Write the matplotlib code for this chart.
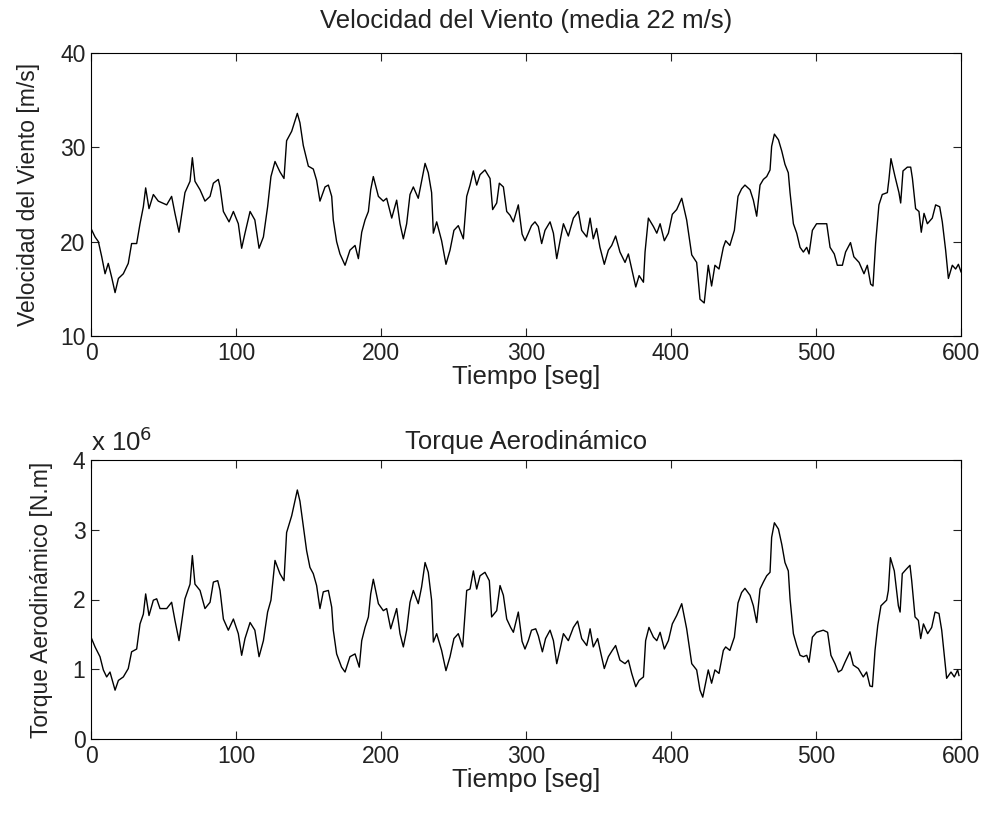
import matplotlib
matplotlib.use("Agg")
import matplotlib.pyplot as plt
from matplotlib.ticker import FuncFormatter

# velocidad del viento [m/s]
t_viento = [0, 2.8, 5.1, 7.4, 9.7, 11.9, 14.3, 16.6, 18.9, 22.3,
            25.7, 28.0, 31.5, 33.8, 36.1, 37.7, 40.0, 43.0, 46.4, 52.2,
            55.6, 57.9, 60.7, 64.8, 68.3, 69.9, 71.7, 75.2, 78.6, 82.1,
            84.4, 87.8, 89.0, 91.3, 95.2, 98.2, 101.6, 103.9, 106.2, 109.7,
            113.0, 115.9, 118.9, 121.8, 124.1, 126.9, 130.3, 133.1, 134.9, 138.4,
            142.3, 144.1, 146.4, 149.9, 153.3, 155.6, 157.9, 161.4, 163.7, 166.0,
            167.1, 169.4, 171.7, 175.2, 178.6, 182.1, 184.4, 186.7, 189.0, 191.3,
            192.9, 194.7, 198.2, 201.6, 203.9, 207.4, 210.8, 213.1, 215.4, 217.7,
            220.0, 222.3, 225.7, 228.0, 230.4, 232.6, 234.9, 236.1, 238.4, 241.8,
            244.8, 247.6, 250.3, 253.3, 256.8, 259.1, 261.4, 263.7, 266.0, 268.3,
            271.7, 275.2, 277.0, 279.8, 281.6, 284.4, 286.7, 289.0, 291.3, 294.7,
            297.3, 299.3, 301.6, 303.8, 306.2, 308.5, 310.8, 313.1, 316.6, 318.9,
            321.2, 323.5, 325.8, 329.2, 332.7, 336.1, 338.4, 341.9, 344.2, 346.4,
            348.7, 351.0, 354.0, 356.8, 359.1, 361.8, 364.8, 368.3, 370.6, 372.9,
            375.7, 378.0, 381.0, 382.1, 384.4, 387.9, 390.2, 392.5, 395.4, 398.2,
            400.9, 403.9, 407.4, 410.8, 414.3, 417.7, 420.0, 422.9, 425.7, 428.0,
            430.3, 433.1, 436.1, 437.7, 440.6, 443.7, 446.2, 448.7, 451.0, 454.5,
            456.8, 459.1, 461.4, 463.7, 466.0, 468.3, 469.4, 471.3, 474.1, 476.4,
            478.6, 480.9, 482.1, 484.4, 486.7, 489.0, 491.3, 493.6, 495.2, 497.5,
            500.4, 503.6, 507.4, 509.7, 512.6, 514.7, 518.2, 520.4, 523.8, 526.1,
            529.7, 533.1, 535.4, 537.7, 539.3, 541.1, 543.4, 545.7, 549.2, 550.3,
            551.7, 554.5, 557.2, 558.4, 560.0, 563.0, 565.3, 566.5, 568.7, 571.0,
            572.6, 574.5, 576.8, 580.2, 582.5, 585.3, 587.1, 589.4, 591.3, 594.0,
            596.3, 598.2, 600.0]
v_viento = [21.4, 20.5, 20.0, 18.4, 16.6, 17.7, 16.2, 14.6, 16.1, 16.6,
            17.7, 19.8, 19.8, 21.9, 23.7, 25.7, 23.5, 25.0, 24.3, 23.9,
            24.8, 23.0, 21.0, 25.2, 26.4, 28.9, 26.4, 25.5, 24.3, 24.8,
            26.2, 26.6, 25.8, 23.2, 22.1, 23.2, 21.9, 19.3, 20.9, 23.2,
            22.3, 19.3, 20.5, 23.7, 26.9, 28.5, 27.4, 26.7, 30.7, 31.7,
            33.6, 32.6, 30.2, 28.0, 27.7, 26.5, 24.3, 25.8, 26.0, 24.8,
            22.3, 20.0, 18.7, 17.5, 19.1, 19.6, 18.2, 21.0, 22.3, 23.2,
            25.5, 26.9, 24.8, 24.3, 24.6, 22.5, 24.4, 21.9, 20.3, 21.9,
            25.0, 25.8, 24.6, 26.4, 28.3, 27.3, 25.2, 20.9, 22.1, 20.1,
            17.6, 19.1, 21.2, 21.7, 20.3, 24.8, 26.0, 27.5, 26.0, 27.1,
            27.6, 26.7, 23.4, 24.1, 26.2, 25.8, 23.2, 22.8, 22.1, 23.9,
            20.8, 20.1, 20.9, 21.7, 22.1, 21.6, 19.8, 21.2, 22.1, 20.9,
            18.2, 20.1, 21.9, 20.6, 22.5, 23.2, 21.2, 20.5, 22.5, 20.3,
            21.4, 19.4, 17.6, 19.1, 19.6, 20.6, 18.9, 17.8, 18.7, 17.1,
            15.2, 16.4, 15.7, 18.9, 22.5, 21.6, 20.9, 21.9, 20.1, 20.9,
            22.9, 23.4, 24.6, 22.3, 18.6, 17.8, 13.9, 13.5, 17.5, 15.3,
            17.5, 17.1, 19.4, 20.1, 19.6, 21.2, 24.8, 25.6, 26.0, 25.5,
            24.4, 22.7, 26.0, 26.6, 26.9, 27.6, 30.1, 31.4, 30.8, 29.6,
            28.2, 27.3, 25.2, 21.9, 20.9, 19.4, 18.9, 19.4, 18.7, 21.2,
            21.9, 21.9, 21.9, 19.4, 18.7, 17.5, 17.5, 18.9, 19.9, 18.4,
            17.8, 16.6, 17.5, 15.5, 15.3, 19.8, 23.9, 25.0, 25.2, 26.6,
            28.8, 26.9, 25.2, 24.1, 27.5, 27.9, 27.9, 26.7, 23.5, 23.2,
            21.0, 23.0, 21.9, 22.5, 23.9, 23.7, 22.1, 19.1, 16.1, 17.5,
            17.1, 17.6, 16.8]

# torque aerodinamico [x 10^6 N.m]
t_torque = [0, 2.8, 6.2, 8.5, 10.8, 13.1, 16.6, 18.9, 22.3, 25.7,
            28.0, 31.5, 33.8, 36.1, 37.7, 40.0, 43.0, 45.3, 47.6, 52.2,
            55.6, 57.9, 60.7, 64.8, 68.3, 69.9, 71.7, 75.2, 78.6, 82.1,
            84.4, 87.4, 89.0, 91.3, 94.7, 98.2, 101.6, 103.9, 106.2, 109.7,
            113.0, 115.9, 118.9, 121.8, 124.1, 126.9, 130.3, 133.1, 134.9, 138.4,
            142.3, 144.1, 146.4, 148.7, 151.0, 153.3, 155.6, 157.9, 160.2, 163.7,
            166.0, 167.1, 169.4, 172.8, 175.2, 178.6, 182.1, 185.0, 186.7, 189.0,
            191.3, 192.9, 194.7, 198.2, 201.6, 203.9, 206.7, 210.8, 213.1, 215.4,
            217.7, 220.0, 222.3, 225.7, 228.0, 230.4, 232.6, 234.9, 236.1, 238.4,
            241.8, 244.8, 247.6, 250.3, 253.3, 256.3, 259.1, 261.4, 263.7, 266.0,
            268.3, 271.7, 274.7, 276.3, 279.8, 282.1, 284.4, 286.7, 289.4, 291.3,
            294.7, 297.3, 299.3, 301.6, 303.8, 306.7, 308.5, 311.3, 313.5, 316.6,
            318.9, 321.2, 323.5, 325.8, 329.2, 332.7, 335.6, 338.4, 341.9, 344.2,
            346.4, 349.4, 351.7, 354.0, 356.8, 359.5, 361.8, 364.8, 368.3, 370.6,
            372.9, 375.7, 378.0, 381.0, 382.5, 384.8, 387.9, 390.2, 392.5, 395.4,
            398.2, 400.9, 403.9, 407.4, 410.8, 414.3, 417.7, 420.0, 421.9, 425.7,
            428.0, 430.3, 433.1, 436.1, 437.7, 440.6, 443.7, 446.2, 448.7, 451.0,
            454.5, 456.8, 459.1, 461.4, 463.7, 466.0, 468.3, 469.4, 471.3, 474.1,
            476.4, 478.6, 480.9, 482.1, 484.4, 486.7, 489.0, 491.3, 493.6, 495.2,
            497.5, 500.4, 505.0, 508.0, 510.3, 513.1, 515.4, 517.7, 520.0, 523.4,
            525.7, 529.2, 532.6, 534.9, 537.2, 538.9, 540.7, 542.6, 544.8, 548.7,
            549.9, 551.3, 554.0, 556.8, 558.0, 559.5, 562.5, 564.8, 566.0, 568.3,
            570.6, 572.2, 574.1, 577.0, 579.8, 582.1, 584.8, 586.7, 588.6, 590.1,
            593.1, 595.4, 597.7, 598.6]
torque = [1.46, 1.32, 1.18, 0.99, 0.89, 0.96, 0.70, 0.84, 0.89, 1.01,
          1.25, 1.29, 1.65, 1.79, 2.08, 1.77, 1.99, 2.01, 1.87, 1.87,
          1.96, 1.70, 1.41, 2.01, 2.22, 2.63, 2.22, 2.13, 1.87, 1.96,
          2.25, 2.27, 2.13, 1.72, 1.56, 1.72, 1.51, 1.20, 1.44, 1.67,
          1.56, 1.18, 1.41, 1.82, 1.99, 2.56, 2.37, 2.27, 2.96, 3.20,
          3.57, 3.41, 3.06, 2.70, 2.46, 2.37, 2.20, 1.87, 2.11, 2.13,
          1.89, 1.56, 1.22, 1.03, 0.96, 1.18, 1.22, 1.03, 1.41, 1.60,
          1.75, 2.08, 2.29, 1.94, 1.84, 1.87, 1.58, 1.87, 1.51, 1.32,
          1.56, 1.96, 2.13, 1.94, 2.18, 2.53, 2.39, 1.99, 1.39, 1.51,
          1.27, 0.98, 1.18, 1.44, 1.51, 1.32, 2.13, 2.15, 2.41, 2.15,
          2.34, 2.39, 2.27, 1.75, 1.84, 2.20, 2.06, 1.72, 1.60, 1.53,
          1.82, 1.40, 1.29, 1.41, 1.56, 1.58, 1.48, 1.25, 1.44, 1.56,
          1.41, 1.08, 1.29, 1.51, 1.41, 1.60, 1.69, 1.44, 1.34, 1.58,
          1.32, 1.44, 1.22, 1.01, 1.18, 1.27, 1.34, 1.13, 1.08, 1.13,
          0.94, 0.75, 0.84, 0.89, 1.41, 1.60, 1.46, 1.41, 1.53, 1.29,
          1.41, 1.65, 1.77, 1.94, 1.58, 1.08, 0.99, 0.70, 0.60, 0.99,
          0.80, 0.99, 0.94, 1.27, 1.32, 1.27, 1.46, 1.95, 2.10, 2.16,
          2.06, 1.91, 1.67, 2.15, 2.25, 2.34, 2.39, 2.89, 3.10, 3.01,
          2.79, 2.53, 2.41, 2.01, 1.51, 1.34, 1.20, 1.18, 1.20, 1.10,
          1.46, 1.53, 1.56, 1.53, 1.20, 1.08, 0.96, 0.99, 1.10, 1.25,
          1.06, 1.01, 0.89, 0.96, 0.76, 0.75, 1.27, 1.63, 1.91, 1.99,
          2.13, 2.60, 2.41, 1.91, 1.82, 2.37, 2.44, 2.49, 2.27, 1.75,
          1.70, 1.44, 1.65, 1.51, 1.60, 1.82, 1.80, 1.56, 1.18, 0.87,
          0.96, 0.89, 0.99, 0.91]

x_ticks = [0, 100, 200, 300, 400, 500, 600]
v_ticks = [10, 20, 30, 40]
torque_ticks = [0, 1, 2, 3, 4]

plt.rcParams['font.family'] = ['Liberation Sans', 'DejaVu Sans']
txt_size = 18.5
tick_size = 16.5
ylab_size = 16.5
ink = '#222222'

fig = plt.figure(figsize=(9.83, 8.14), dpi=100)
W, H = 983.0, 814.0


def style_axes(ax):
    ax.tick_params(direction='in', top=True, right=True, length=6, width=0.8,
                   pad=4, labelsize=tick_size, colors=ink)
    for s in ax.spines.values():
        s.set_linewidth(0.8)


# velocidad
ax1 = fig.add_axes([91 / W, 1 - 336 / H, 870 / W, 283 / H])
ax1.plot(t_viento, v_viento, color='black', linewidth=1.0)
ax1.set_xlim(0, 600)
ax1.set_ylim(10, 40)
ax1.set_xticks(x_ticks)
ax1.set_yticks(v_ticks)
style_axes(ax1)
ax1.set_title('Velocidad del Viento (media 22 m/s)', fontsize=txt_size, pad=18, color=ink)
ax1.set_xlabel('Tiempo [seg]', fontsize=txt_size, labelpad=0, color=ink)
ax1.set_ylabel('Velocidad del Viento [m/s]', fontsize=ylab_size, labelpad=14, color=ink)

# torque
ax2 = fig.add_axes([91 / W, 1 - 739 / H, 870 / W, 279 / H])
ax2.plot(t_torque, [v * 1e6 for v in torque], color='black', linewidth=1.0)
ax2.set_xlim(0, 600)
ax2.set_ylim(0, 4e6)
ax2.set_xticks(x_ticks)
ax2.set_yticks([v * 1e6 for v in torque_ticks])
ax2.yaxis.set_major_formatter(FuncFormatter(lambda y, pos: '%g' % (y / 1e6)))
style_axes(ax2)
ax2.set_title('Torque Aerodinámico', fontsize=txt_size, pad=8, color=ink)
ax2.set_xlabel('Tiempo [seg]', fontsize=txt_size, labelpad=0, color=ink)
ax2.set_ylabel('Torque Aerodinámico [N.m]', fontsize=ylab_size, labelpad=14, color=ink)
ax2.text(0.0, 1.013, r'x 10$^{6}$', transform=ax2.transAxes, fontsize=txt_size,
         ha='left', va='bottom', color=ink)

fig.savefig('out.png', dpi=100)
